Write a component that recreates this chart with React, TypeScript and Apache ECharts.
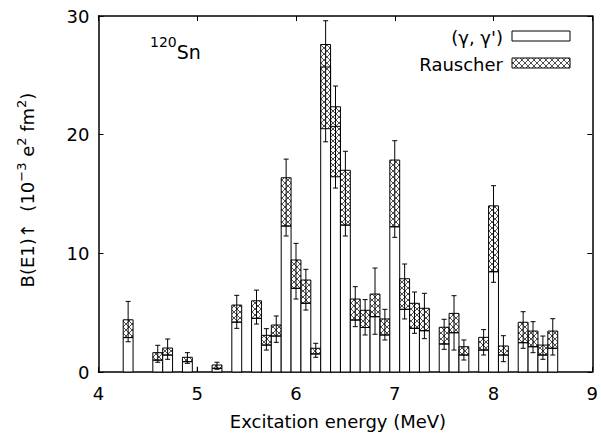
import React, { useEffect, useRef } from "react";
import * as echarts from "echarts";

// Excitation energies (MeV), bin centres
const energies = [4.3, 4.6, 4.7, 4.9, 5.0, 5.2, 5.4, 5.6, 5.7, 5.8, 5.9, 6.0, 6.1, 6.2, 6.3, 6.4, 6.5, 6.6, 6.7, 6.8, 6.9, 7.0, 7.1, 7.2, 7.3, 7.5, 7.6, 7.7, 7.9, 8.0, 8.1, 8.3, 8.4, 8.5, 8.6];
// (γ,γ') bar top
const ggTop = [2.9, 1.0, 1.43, 0.87, 0, 0.31, 4.2, 4.52, 2.27, 3.03, 12.3, 7.05, 5.79, 1.52, 25.7, 20.7, 12.38, 4.38, 3.75, 4.66, 3.12, 12.24, 5.28, 3.68, 3.48, 2.36, 3.31, 1.43, 1.85, 8.45, 1.43, 2.47, 2.13, 1.43, 2.0];
// Rauscher hatched band, low / high
const hatchLow = [2.9, 1.0, 1.43, 0.87, 0, 0.31, 4.2, 4.52, 2.27, 3.03, 12.3, 7.05, 5.79, 1.52, 20.5, 16.45, 12.38, 4.38, 3.75, 4.66, 3.12, 12.24, 5.28, 3.68, 3.48, 2.36, 3.31, 1.43, 1.85, 8.45, 1.43, 2.47, 2.13, 1.43, 2.0];
const hatchHigh = [4.4, 1.63, 2.02, 1.24, 0, 0.59, 5.64, 6.0, 3.09, 3.96, 16.37, 9.44, 7.75, 2.0, 27.6, 22.35, 17.0, 6.15, 5.2, 6.57, 4.47, 17.86, 7.86, 5.79, 5.37, 3.77, 4.94, 2.13, 2.92, 14.0, 2.19, 4.19, 3.45, 2.27, 3.45];
// error bars
const errLow = [2.55, 0.82, 1.07, 0.73, 0, 0.23, 3.68, 4.04, 1.85, 2.5, 11.46, 6.15, 5.22, 1.24, 19.4, 15.5, 11.46, 3.82, 3.12, 3.18, 2.7, 11.35, 4.47, 3.26, 2.81, 1.91, 1.85, 1.01, 1.43, 7.56, 0.87, 2.0, 1.63, 1.07, 1.43];
const errHigh = [5.95, 2.25, 2.78, 1.63, 0.45, 0.82, 6.46, 6.9, 3.65, 4.72, 17.94, 10.84, 8.65, 2.42, 29.6, 24.1, 18.6, 7.19, 6.1, 8.76, 5.28, 19.49, 9.1, 6.74, 6.63, 4.44, 6.43, 2.7, 3.57, 15.7, 3.06, 5.08, 4.24, 3.03, 4.49];

const binWidth = 0.1;
const FONT = "DejaVu Sans";
const HATCH = 6;

function hatchSegments(x0: number, y0: number, x1: number, y1: number, s: number) {
  const segs: number[][] = [];
  for (let c = Math.ceil((y0 - x1) / s) * s; c <= y1 - x0; c += s) {
    const xa = Math.max(x0, y0 - c), xb = Math.min(x1, y1 - c);
    if (xb - xa > 0.05) segs.push([xa, xa + c, xb, xb + c]);
  }
  for (let k = Math.ceil((x0 + y0) / s) * s; k <= x1 + y1; k += s) {
    const xa = Math.max(x0, k - y1), xb = Math.min(x1, k - y0);
    if (xb - xa > 0.05) segs.push([xa, k - xa, xb, k - xb]);
  }
  return segs;
}

export default function App() {
  const ref = useRef<HTMLDivElement>(null);
  useEffect(() => {
    document.body.style.margin = "0";
    const chart = echarts.init(ref.current!, null, { renderer: "svg" });
    const data = energies.map((e, i) => [e, ggTop[i], hatchLow[i], hatchHigh[i], errLow[i], errHigh[i]]);

    const axisCommon = {
      type: "value" as const,
      axisLine: { show: true, onZero: false, lineStyle: { color: "#000", width: 1.5 } },
      axisTick: { show: true, inside: true, length: 5, lineStyle: { color: "#000", width: 1 } },
      splitLine: { show: false },
    };

    const legendSegs = hatchSegments(512, 58, 570, 68, HATCH).map((s) => ({
      type: "line",
      shape: { x1: s[0], y1: s[1], x2: s[2], y2: s[3] },
      style: { stroke: "#222", lineWidth: 0.8 },
      silent: true,
    }));

    chart.setOption({
      animation: false,
      grid: { left: 98.5, right: 8, top: 16, bottom: 65 },
      xAxis: [
        { ...axisCommon, position: "bottom", min: 4, max: 9, interval: 1,
          axisLabel: { color: "#000", fontSize: 18, fontFamily: FONT, margin: 12 } },
        { ...axisCommon, position: "top", min: 4, max: 9, interval: 1, axisLabel: { show: false } },
      ],
      yAxis: [
        { ...axisCommon, position: "left", min: 0, max: 30, interval: 10,
          axisLabel: { color: "#000", fontSize: 18, fontFamily: FONT, margin: 9 } },
        { ...axisCommon, position: "right", min: 0, max: 30, interval: 10, axisLabel: { show: false } },
      ],
      series: [
        {
          type: "custom",
          xAxisIndex: 0,
          yAxisIndex: 0,
          data,
          renderItem: (params: any, api: any) => {
            const x = api.value(0), g = api.value(1), lo = api.value(2), hi = api.value(3);
            const el = api.value(4), eh = api.value(5);
            const w = api.size([binWidth, 0])[0];
            const base = api.coord([x, 0]);
            const cx = base[0];
            const x0 = cx - w / 2, x1 = cx + w / 2;
            const children: any[] = [];
            if (hi > 0) {
              const yG = api.coord([x, g])[1];
              const yLo = api.coord([x, lo])[1];
              const yHi = api.coord([x, hi])[1];
              children.push({
                type: "rect",
                shape: { x: x0, y: yG, width: w, height: base[1] - yG },
                style: { fill: "#fff", stroke: "#000", lineWidth: 1 },
              });
              const segs = hatchSegments(x0, yHi, x1, yLo, HATCH);
              let d = "";
              segs.forEach((s) => { d += `M${s[0]} ${s[1]}L${s[2]} ${s[3]}`; });
              if (d) {
                children.push({
                  type: "path",
                  shape: { pathData: d },
                  style: { fill: "none", stroke: "#222", lineWidth: 0.8 },
                });
              }
              children.push({
                type: "rect",
                shape: { x: x0, y: yHi, width: w, height: yLo - yHi },
                style: { fill: "none", stroke: "#000", lineWidth: 1 },
              });
            }
            const yeL = api.coord([x, el])[1];
            const yeH = api.coord([x, eh])[1];
            children.push({
              type: "line",
              shape: { x1: cx, y1: yeL, x2: cx, y2: yeH },
              style: { stroke: "#000", lineWidth: 1 },
            });
            if (hi > 0) {
              children.push({ type: "line", shape: { x1: cx - 2.5, y1: yeL, x2: cx + 2.5, y2: yeL }, style: { stroke: "#000", lineWidth: 1 } });
              children.push({ type: "line", shape: { x1: cx - 2.5, y1: yeH, x2: cx + 2.5, y2: yeH }, style: { stroke: "#000", lineWidth: 1 } });
            }
            return { type: "group", children };
          },
        },
      ],
      graphic: [
        {
          type: "text", x: 150, y: 52,
          style: {
            text: "{s|120}{n|Sn}",
            rich: {
              s: { fontSize: 14, fontFamily: FONT, fill: "#000", padding: [0, 0, 20, 0] },
              n: { fontSize: 19, fontFamily: FONT, fill: "#000" },
            },
            align: "left", verticalAlign: "middle", textAlign: "left", textVerticalAlign: "middle",
          },
        },
        {
          type: "text", x: 503, y: 37,
          style: { text: "(γ, γ')", fontSize: 18, fontFamily: FONT, fill: "#000", align: "right", verticalAlign: "middle", textAlign: "right", textVerticalAlign: "middle" },
        },
        {
          type: "text", x: 503, y: 64,
          style: { text: "Rauscher", fontSize: 18, fontFamily: FONT, fill: "#000", align: "right", verticalAlign: "middle", textAlign: "right", textVerticalAlign: "middle" },
        },
        { type: "rect", shape: { x: 512, y: 31, width: 58, height: 10 }, style: { fill: "#fff", stroke: "#000", lineWidth: 1 } },
        ...legendSegs,
        { type: "rect", shape: { x: 512, y: 58, width: 58, height: 10 }, style: { fill: "none", stroke: "#000", lineWidth: 1 } },
        {
          type: "text", x: 338, y: 421,
          style: { text: "Excitation energy (MeV)", fontSize: 18, fontFamily: FONT, fill: "#000", align: "center", verticalAlign: "middle", textAlign: "center", textVerticalAlign: "middle" },
        },
        {
          type: "text", x: 27, y: 190, rotation: Math.PI / 2,
          style: {
            text: "{n|B(E1)↑  (10}{s|−3}{n| e}{s|2}{n| fm}{s|2}{n|)}",
            rich: {
              n: { fontSize: 18, fontFamily: FONT, fill: "#000" },
              s: { fontSize: 13, fontFamily: FONT, fill: "#000", padding: [0, 0, 12, 0] },
            },
            align: "center", verticalAlign: "middle", textAlign: "center", textVerticalAlign: "middle",
          },
        },
      ],
    });
    return () => chart.dispose();
  }, []);
  return <div ref={ref} style={{ width: 601, height: 437 }} />;
}
